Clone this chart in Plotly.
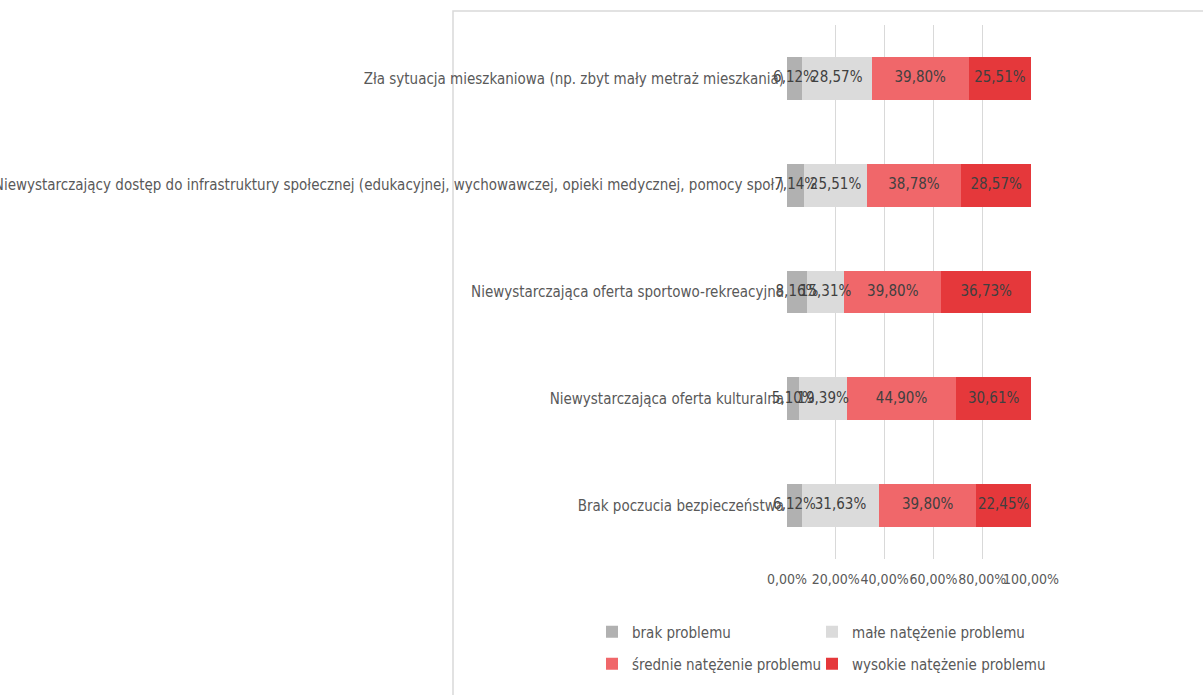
import plotly.graph_objects as go

# Problem categories, listed top to bottom
categories = [
    "Zła sytuacja mieszkaniowa (np. zbyt mały metraż mieszkania)",
    "Niewystarczający dostęp do infrastruktury społecznej (edukacyjnej, wychowawczej, opieki medycznej, pomocy społ.)",
    "Niewystarczająca oferta sportowo-rekreacyjna",
    "Niewystarczająca oferta kulturalna",
    "Brak poczucia bezpieczeństwa",
]

# Share of answers (%) per problem intensity
brak_problemu = [6.12, 7.14, 8.16, 5.10, 6.12]
male_natezenie = [28.57, 25.51, 15.31, 19.39, 31.63]
srednie_natezenie = [39.80, 38.78, 39.80, 44.90, 39.80]
wysokie_natezenie = [25.51, 28.57, 36.73, 30.61, 22.45]

series_names = [
    "brak problemu",
    "małe natężenie problemu",
    "średnie natężenie problemu",
    "wysokie natężenie problemu",
]
series_values = [brak_problemu, male_natezenie, srednie_natezenie, wysokie_natezenie]
series_colors = ["#b1b1b1", "#dbdbdb", "#f0676a", "#e5383b"]

x_tick_vals = [0, 20, 40, 60, 80, 100]
x_tick_text = ["0,00%", "20,00%", "40,00%", "60,00%", "80,00%", "100,00%"]

FONT = "DejaVu Sans Condensed, Liberation Sans Narrow, sans-serif"
LEGEND_IDS = ["legend", "legend2", "legend3", "legend4"]
# legend entry text positions (px): left edge and vertical centre
LEGEND_POS = [(592, 632), (812, 632), (592, 664), (812, 664)]

fig = go.Figure()

# Stacked bars
for name, vals, color, lg in zip(series_names, series_values, series_colors, LEGEND_IDS):
    fig.add_trace(
        go.Bar(
            y=categories,
            x=vals,
            name=name,
            orientation="h",
            marker=dict(color=color, line=dict(width=0)),
            legend=lg,
            hoverinfo="skip",
        )
    )

# Value labels centred on each segment, drawn above all bars
starts = [0.0] * len(categories)
for vals in series_values:
    mids = [s + v / 2 for s, v in zip(starts, vals)]
    fig.add_trace(
        go.Scatter(
            x=mids,
            y=categories,
            mode="text",
            customdata=vals,
            texttemplate="%{customdata:.2f}%",
            textposition="middle center",
            textfont=dict(family=FONT, size=15, color="#404040"),
            showlegend=False,
            hoverinfo="skip",
            cliponaxis=False,
        )
    )
    starts = [s + v for s, v in zip(starts, vals)]

# Outer chart-area frame
fig.add_shape(
    type="rect", xref="paper", yref="paper",
    x0=(453 - 787) / 244, x1=2.0,
    y0=-1.0, y1=1 + 14 / 534,
    line=dict(color="#d9d9d9", width=1.5),
    fillcolor="rgba(0,0,0,0)", layer="below",
)

legend_layout = {}
for lg, (lx, ly) in zip(LEGEND_IDS, LEGEND_POS):
    legend_layout[lg] = dict(
        orientation="h",
        xref="container", yref="container",
        x=lx / 1203, y=1 - ly / 695,
        xanchor="left", yanchor="middle",
        font=dict(family=FONT, size=15, color="#595959"),
        bgcolor="rgba(0,0,0,0)",
        itemclick=False, itemdoubleclick=False,
    )

fig.update_layout(
    width=1203, height=695,
    margin=dict(l=787, r=172, t=25, b=136, autoexpand=False),
    barmode="stack",
    bargap=0.6,
    separators=", ",
    plot_bgcolor="white",
    paper_bgcolor="white",
    font=dict(family=FONT, size=15, color="#595959"),
    showlegend=True,
    **legend_layout,
    xaxis=dict(
        range=[0, 100],
        tickvals=x_tick_vals,
        ticktext=x_tick_text,
        tickangle=0,
        showgrid=True, gridcolor="#d9d9d9", gridwidth=1,
        zeroline=False, showline=False,
        ticks="",
        ticklabelstandoff=10,
        tickfont=dict(family=FONT, size=14, color="#595959"),
        automargin=False,
    ),
    yaxis=dict(
        autorange="reversed",
        showgrid=False, zeroline=False, showline=False,
        ticks="",
        ticklabelstandoff=2,
        tickfont=dict(family=FONT, size=15, color="#595959"),
        automargin=False,
    ),
)

fig.write_html("out.html")
